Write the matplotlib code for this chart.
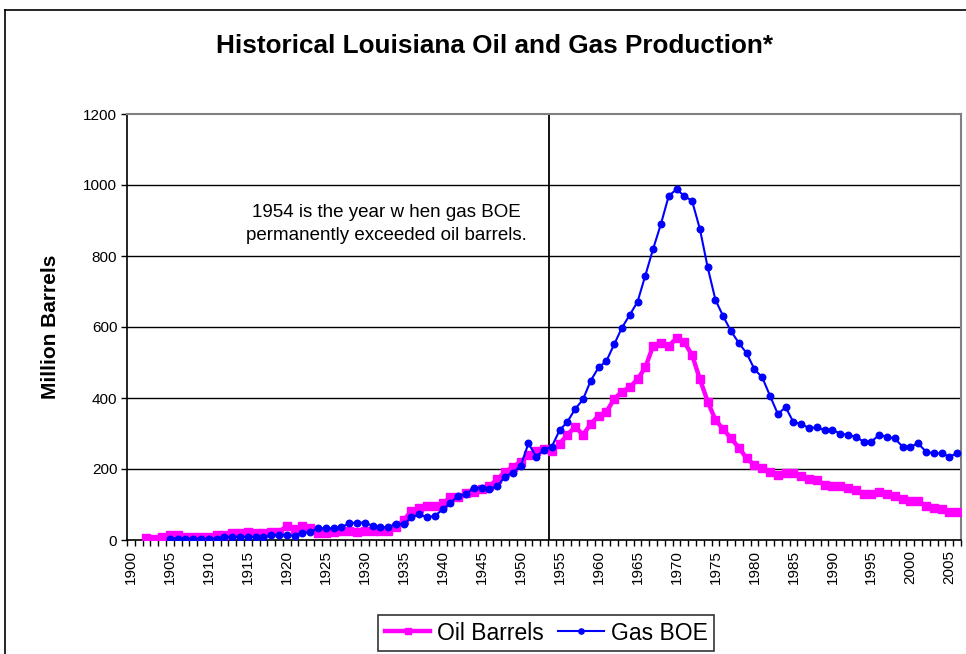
import matplotlib
matplotlib.use("Agg")
import matplotlib.pyplot as plt
from matplotlib.lines import Line2D

plt.rcParams['font.family'] = ['Liberation Sans', 'DejaVu Sans']

# oil production, 1902-2006 (million barrels)
oil_years = list(range(1902, 2007))
oil_barrels = [5, 4, 9, 14, 14, 9, 9, 9, 9, 14,
               14, 19, 19, 23, 19, 19, 23, 23, 39, 31,
               39, 33, 21, 21, 23, 26, 26, 22, 26, 26,
               26, 26, 38, 56, 82, 91, 96, 96, 103, 120,
               120, 131, 136, 143, 152, 171, 192, 205, 221, 239,
               251, 256, 250, 271, 296, 319, 296, 327, 350, 361,
               397, 418, 430, 453, 486, 547, 556, 547, 568, 557,
               521, 453, 390, 338, 312, 286, 260, 230, 211, 204,
               192, 183, 190, 190, 180, 172, 169, 155, 152, 152,
               146, 141, 130, 130, 134, 130, 125, 115, 110, 110,
               96, 91, 86, 78, 78]

# gas production as barrels of oil equivalent, 1905-2006
gas_years = list(range(1905, 2007))
gas_boe = [4, 4, 4, 4, 4, 4, 4, 9, 9, 9,
           9, 9, 9, 14, 14, 14, 12, 19, 23, 33,
           33, 33, 36, 47, 49, 49, 40, 36, 36, 45,
           45, 64, 72, 64, 68, 86, 105, 124, 129, 147,
           147, 143, 152, 178, 190, 208, 272, 235, 254, 263,
           309, 333, 369, 396, 449, 486, 504, 551, 598, 634,
           671, 745, 820, 890, 969, 988, 969, 955, 876, 768,
           676, 630, 588, 555, 526, 481, 458, 406, 355, 374,
           332, 327, 315, 317, 310, 310, 300, 296, 291, 277,
           277, 296, 291, 286, 263, 263, 272, 249, 244, 244,
           235, 244]

label_years = list(range(1900, 2006, 5))
y_ticks = [0, 200, 400, 600, 800, 1000, 1200]

fig = plt.figure(figsize=(9.66, 6.54), dpi=100)
ax = fig.add_axes([127 / 966, 1 - 540 / 654, (961 - 127) / 966, (540 - 114) / 654])

# chart border
fig.add_artist(Line2D([5 / 966, 5 / 966], [0, 1 - 10 / 654], color='black', lw=1.2))
fig.add_artist(Line2D([5 / 966, 1], [1 - 10 / 654, 1 - 10 / 654], color='black', lw=1.2))

for v in y_ticks[1:-1]:
    ax.axhline(v, color='black', lw=1, zorder=1)

ax.plot(oil_years, oil_barrels, color='#FF00FF', lw=3.2, marker='s', ms=5.3,
        label='Oil Barrels', zorder=3)
ax.plot(gas_years, gas_boe, color='#0000FF', lw=1.5, marker='o', ms=4.7,
        label='Gas BOE', zorder=4)

ax.axvline(1953.6, color='black', lw=1.3, zorder=2)
ax.text(1932.8, 889, '1954 is the year w hen gas BOE\npermanently exceeded oil barrels.',
        ha='center', va='center', fontsize=13.5, linespacing=1.45)

ax.set_xlim(1899.5, 2006.5)
ax.set_ylim(0, 1200)
ax.set_yticks(y_ticks)
ax.set_xticks(label_years)
ax.set_xticklabels([str(y) for y in label_years], rotation=90, fontsize=11)
ax.set_xticks([y + 0.5 for y in range(1899, 2007)], minor=True)
ax.tick_params(axis='x', which='major', length=0, pad=7)
ax.tick_params(axis='x', which='minor', length=4, width=1, direction='out')
ax.tick_params(axis='y', length=4, width=1, direction='out', labelsize=11, pad=3)

for s in ['left', 'bottom']:
    ax.spines[s].set_color('black')
    ax.spines[s].set_linewidth(1.2)
for s in ['top', 'right']:
    ax.spines[s].set_color('#808080')
    ax.spines[s].set_linewidth(1.5)

ax.set_ylabel('Million Barrels', fontsize=15, fontweight='bold', labelpad=17)
fig.text(494 / 966, 1 - 46 / 654, 'Historical Louisiana Oil and Gas Production*',
         ha='center', va='center', fontsize=18.8, fontweight='bold')

leg = fig.legend(loc='center', bbox_to_anchor=(546 / 966, 1 - 633 / 654), ncol=2,
                 fontsize=16.5, frameon=True, fancybox=False, handlelength=2.0,
                 handletextpad=0.3, columnspacing=0.6, borderpad=0.3,
                 markerscale=0.8)
leg.get_frame().set_edgecolor('black')
leg.get_frame().set_linewidth(1.2)

fig.savefig('out.png', dpi=100)
